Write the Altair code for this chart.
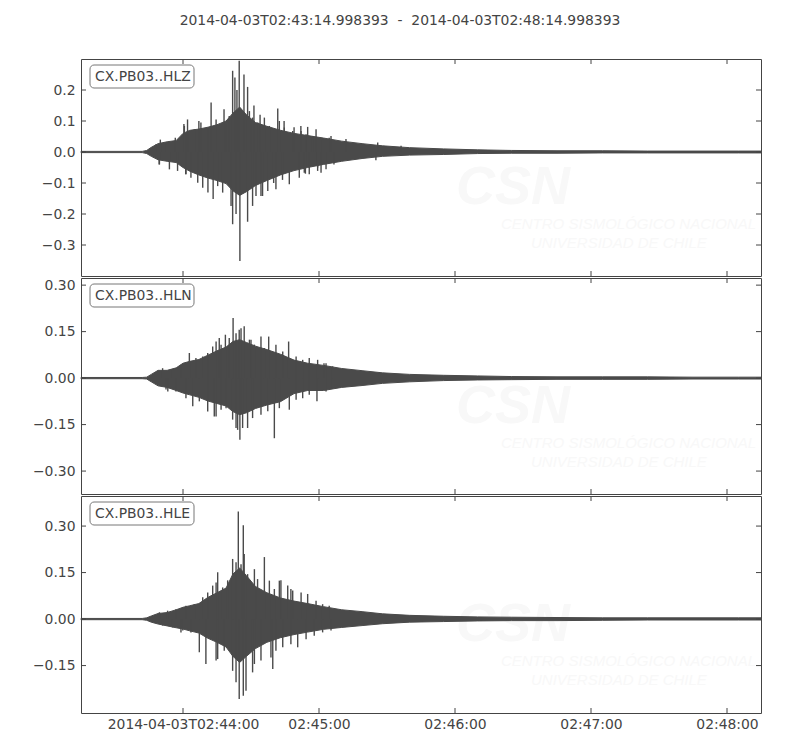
import altair as alt
import pandas as pd

# ---------------- data ----------------
START = "2014-04-03T02:43:14.998393"
END = "2014-04-03T02:48:14.998393"
TITLE = "2014-04-03T02:43:14.998393\u00a0\u00a0-\u00a0\u00a02014-04-03T02:48:14.998393"
TRACE_IDS = ["CX.PB03..HLZ", "CX.PB03..HLN", "CX.PB03..HLE"]

# envelope sample times, seconds after START
env_t = [0, 27, 29, 31, 34, 38, 42, 45, 48, 52, 56, 60, 64, 67, 70, 73, 77, 82,
         88, 94, 100, 107, 115, 124, 133, 145, 160, 175, 190, 210, 230, 250,
         270, 290, 300]

z_hi = [0.002, 0.002, 0.005, 0.015, 0.027, 0.033, 0.037, 0.06, 0.07, 0.074,
        0.08, 0.088, 0.1, 0.125, 0.145, 0.12, 0.095, 0.083, 0.07, 0.06, 0.053,
        0.045, 0.035, 0.027, 0.02, 0.014, 0.01, 0.007, 0.005, 0.004, 0.004,
        0.003, 0.003, 0.003, 0.003]
z_lo = [-0.002, -0.002, -0.005, -0.014, -0.025, -0.03, -0.034, -0.05, -0.062,
        -0.074, -0.084, -0.092, -0.102, -0.125, -0.14, -0.128, -0.108, -0.092,
        -0.074, -0.06, -0.05, -0.04, -0.03, -0.021, -0.014, -0.01, -0.008,
        -0.005, -0.004, -0.004, -0.003, -0.003, -0.003, -0.003, -0.003]

n_hi = [0.002, 0.002, 0.003, 0.012, 0.025, 0.025, 0.033, 0.048, 0.054, 0.06,
        0.074, 0.088, 0.1, 0.118, 0.124, 0.115, 0.103, 0.092, 0.077, 0.058,
        0.048, 0.041, 0.031, 0.024, 0.017, 0.012, 0.009, 0.007, 0.005, 0.004,
        0.004, 0.004, 0.003, 0.003, 0.003]
n_lo = [-0.002, -0.002, -0.003, -0.012, -0.025, -0.03, -0.04, -0.048, -0.054,
        -0.062, -0.074, -0.082, -0.09, -0.108, -0.118, -0.112, -0.098, -0.087,
        -0.076, -0.05, -0.04, -0.04, -0.03, -0.024, -0.017, -0.012, -0.008,
        -0.006, -0.005, -0.004, -0.004, -0.004, -0.003, -0.003, -0.003]

e_hi = [0.002, 0.002, 0.004, 0.01, 0.018, 0.021, 0.03, 0.038, 0.043, 0.05,
        0.07, 0.085, 0.1, 0.145, 0.165, 0.14, 0.105, 0.085, 0.068, 0.058, 0.05,
        0.04, 0.03, 0.024, 0.017, 0.012, 0.009, 0.007, 0.006, 0.005, 0.004,
        0.004, 0.004, 0.004, 0.004]
e_lo = [-0.002, -0.002, -0.004, -0.01, -0.016, -0.022, -0.028, -0.032, -0.038,
        -0.045, -0.062, -0.075, -0.09, -0.12, -0.14, -0.12, -0.095, -0.075,
        -0.06, -0.05, -0.042, -0.033, -0.027, -0.021, -0.015, -0.01, -0.008,
        -0.006, -0.005, -0.005, -0.004, -0.003, -0.003, -0.003, -0.003]

# individual peaks (seconds after START, amplitude)
z_spike_t = [35.0, 45.4, 47.0, 52.0, 57.4, 63.1, 66.9, 67.9, 68.8, 69.8, 71.9,
             73.5, 76.3, 79.0, 86.8, 89.6, 94.0, 97.0, 34.5, 46.2, 56.0, 58.3,
             62.5, 66.9, 68.4, 70.1, 73.5, 79.4, 85.0, 88.9, 99.0, 104.4,
             33.1, 36.8, 41.6, 45.6, 47.1, 50.0, 52.9, 55.9, 59.6, 64.0, 65.4,
             74.3, 75.7, 78.0, 80.9, 83.1, 87.5, 89.7, 93.4, 97.1, 99.3, 102.2,
             106.6, 109.5, 100.0, 103.7, 110.3, 116.9, 130.9, 141.2,
             34.6, 39.0, 42.6, 46.3, 48.5, 51.5, 53.7, 60.3, 66.2, 75.7, 77.2,
             80.1, 82.4, 86.0, 91.9, 96.3, 100.7, 104.4, 108.1, 98.5, 105.9,
             111.6, 130.1]
z_spike_v = [0.04, 0.09, 0.105, 0.10, 0.16, 0.138, 0.262, 0.24, 0.20, 0.294,
             0.25, 0.21, 0.15, 0.12, 0.14, 0.10, 0.08, 0.084, -0.04, -0.072,
             -0.131, -0.152, -0.131, -0.233, -0.2, -0.352, -0.225, -0.142,
             -0.1, -0.09, -0.07, -0.05,
             0.025, 0.030, 0.046, 0.084, 0.068, 0.073, 0.095, 0.079, 0.105,
             0.089, 0.116, 0.132, 0.111, 0.095, 0.111, 0.084, 0.1, 0.079,
             0.068, 0.068, 0.057, 0.051, 0.041, 0.046, 0.081, 0.073, 0.052,
             0.042, 0.031, 0.020,
             -0.040, -0.056, -0.061, -0.072, -0.083, -0.099, -0.115, -0.110,
             -0.174, -0.174, -0.142, -0.142, -0.126, -0.120, -0.104, -0.083,
             -0.072, -0.061, -0.056, -0.067, -0.067, -0.040, -0.027]

n_spike_t = [47.8, 59.6, 61.0, 63.7, 67.1, 69.8, 72.0, 75.0, 79.4, 82.8, 91.6,
             100.7, 104.4, 107.2, 38.3, 49.3, 55.9, 59.6, 66.9, 69.1, 70.1,
             73.5, 79.4, 85.3, 91.9, 104.1,
             36.0, 40.4, 44.1, 50.7, 53.7, 55.9, 58.1, 61.8, 65.4, 68.4, 70.6,
             74.3, 76.5, 80.9, 86.0, 89.0, 94.9, 97.8, 108.1, 111.0,
             37.5, 41.9, 46.3, 52.2, 58.8, 61.8, 64.0, 68.4, 71.3, 75.7, 82.4,
             87.5, 94.9, 97.8, 100.7, 108.1, 111.0]
n_spike_v = [0.081, 0.118, 0.129, 0.14, 0.194, 0.156, 0.167, 0.124, 0.134,
             0.134, 0.118, 0.065, 0.059, 0.048, -0.043, -0.091, -0.108, -0.124,
             -0.134, -0.167, -0.199, -0.161, -0.118, -0.194, -0.102, -0.075,
             0.032, 0.027, 0.043, 0.065, 0.070, 0.081, 0.102, 0.108, 0.129,
             0.145, 0.161, 0.124, 0.108, 0.097, 0.108, 0.086, 0.070, 0.059,
             0.048, 0.038,
             -0.037, -0.043, -0.065, -0.075, -0.124, -0.102, -0.097, -0.161,
             -0.161, -0.129, -0.107, -0.097, -0.070, -0.065, -0.054, -0.043,
             -0.032]

e_spike_t = [55.9, 59.6, 60.3, 64.7, 66.9, 68.4, 69.4, 71.6, 72.0, 76.5, 80.9,
             88.2, 92.6, 97.1, 44.1, 52.2, 55.1, 60.3, 68.4, 69.8, 71.6, 75.7,
             84.6, 95.6,
             34.6, 38.2, 41.9, 46.3, 50.0, 53.7, 58.1, 62.5, 70.6, 73.5, 77.9,
             83.1, 85.3, 87.5, 91.2, 93.4, 100.0, 103.7, 106.6, 109.5,
             36.0, 40.4, 44.9, 48.5, 59.6, 63.2, 66.9, 72.8, 76.5, 79.4, 83.8,
             86.0, 89.0, 92.6, 99.3, 102.9, 106.6, 110.3]
e_spike_v = [0.086, 0.118, 0.151, 0.125, 0.194, 0.183, 0.347, 0.303, 0.21,
             0.161, 0.2, 0.125, 0.097, 0.086, -0.043, -0.107, -0.145, -0.129,
             -0.204, -0.258, -0.247, -0.172, -0.161, -0.091,
             0.022, 0.027, 0.032, 0.043, 0.048, 0.070, 0.108, 0.102, 0.177,
             0.145, 0.129, 0.124, 0.097, 0.124, 0.108, 0.092, 0.081, 0.059,
             0.048, 0.043,
             -0.021, -0.027, -0.037, -0.043, -0.134, -0.102, -0.167, -0.231,
             -0.145, -0.134, -0.124, -0.102, -0.091, -0.081, -0.065, -0.054,
             -0.043, -0.037]

# axis ticks
x_tick_labels = ["2014-04-03T02:44:00", "2014-04-03T02:45:00", "2014-04-03T02:46:00",
                 "2014-04-03T02:47:00", "2014-04-03T02:48:00"]
z_yticks = [0.2, 0.1, 0.0, -0.1, -0.2, -0.3]
n_yticks = [0.30, 0.15, 0.0, -0.15, -0.30]
e_yticks = [0.30, 0.15, 0.0, -0.15]
z_domain = [-0.4, 0.3]
n_domain = [-0.374, 0.323]
e_domain = [-0.303, 0.397]

# ---------------- build ----------------
def ms(ts):
    return pd.Timestamp(ts, tz="UTC").value / 1e6

T0 = ms(START)
T1 = ms(END)
xticks = [ms(s) for s in x_tick_labels]

W = 680
INK = "#4a4a4a"
TXT = "#444444"
FONT = "DejaVu Sans"
FS = 13.9
WMC = "#f8f8f8"

def panel(name, hi, lo, sp_t, sp_v, yticks, ydom, yfmt, H, bottom):
    env = pd.DataFrame({"t": [T0 + s * 1000 for s in env_t], "hi": hi, "lo": lo})
    spk = pd.DataFrame({"t": [T0 + s * 1000 for s in sp_t], "v": sp_v, "z": 0.0})
    xt = pd.DataFrame({"t": xticks})
    yt = pd.DataFrame({"v": yticks})

    xscale = alt.Scale(type="utc", domain=[T0, T1], nice=False)
    yscale = alt.Scale(domain=ydom, nice=False, zero=False)
    if bottom:
        xaxis = alt.Axis(values=xticks, ticks=False, domain=False, grid=False,
                         title=None, labelPadding=4, labelFontSize=FS,
                         labelFont=FONT, labelColor=TXT, labelAngle=0,
                         labelFlush=False, labelOverlap=False,
                         labelExpr="utcFormat(datum.value, datum.value < %f ? '%%Y-%%m-%%dT%%H:%%M:%%S' : '%%H:%%M:%%S')" % (xticks[0] + 1000))
    else:
        xaxis = None
    yaxis = alt.Axis(values=yticks, format=yfmt, ticks=False, domain=False,
                     grid=False, title=None, labelPadding=6, labelFontSize=FS,
                     labelFont=FONT, labelColor=TXT, minExtent=72, maxExtent=72)

    X = alt.X("t:T", scale=xscale, axis=xaxis)

    area = alt.Chart(env).mark_area(color=INK, stroke=INK, strokeWidth=1,
                                    interpolate="linear").encode(
        x=X, y=alt.Y("hi:Q", scale=yscale, axis=yaxis), y2="lo:Q")
    spikes = alt.Chart(spk).mark_rule(color=INK, strokeWidth=1.4).encode(
        x=X, y=alt.Y("z:Q", scale=yscale, axis=yaxis), y2="v:Q")

    xt_top = alt.Chart(xt).mark_rule(color=TXT).encode(
        x=X, y=alt.value(0), y2=alt.value(5))
    xt_bot = alt.Chart(xt).mark_rule(color=TXT).encode(
        x=X, y=alt.value(H - 5), y2=alt.value(H))
    yt_l = alt.Chart(yt).mark_rule(color=TXT).encode(
        y=alt.Y("v:Q", scale=yscale, axis=yaxis), x=alt.value(0), x2=alt.value(5))
    yt_r = alt.Chart(yt).mark_rule(color=TXT).encode(
        y=alt.Y("v:Q", scale=yscale, axis=yaxis), x=alt.value(W - 5), x2=alt.value(W))

    lab = pd.DataFrame({"label": [name]})
    box = alt.Chart(lab).mark_rect(fill="white", stroke="#777777", strokeWidth=1,
                                   cornerRadius=4).encode(
        x=alt.value(9), x2=alt.value(113), y=alt.value(6), y2=alt.value(29))
    txt = alt.Chart(lab).mark_text(align="left", baseline="middle", fontSize=FS,
                                   font=FONT, color=TXT).encode(
        x=alt.value(14), y=alt.value(18), text="label:N")

    wm = pd.DataFrame({"a": ["CSN"], "b": ["CENTRO SISMOLÓGICO NACIONAL"],
                       "c": ["UNIVERSIDAD DE CHILE"]})
    wm1 = alt.Chart(wm).mark_text(align="left", baseline="alphabetic", fontSize=54,
                                  font="Liberation Sans", fontStyle="italic",
                                  fontWeight="bold", color=WMC).encode(
        x=alt.value(375), y=alt.value(145), text="a:N")
    wm2 = alt.Chart(wm).mark_text(align="right", baseline="alphabetic", fontSize=15,
                                  font="Liberation Sans", fontStyle="italic",
                                  color=WMC).encode(
        x=alt.value(675), y=alt.value(170), text="b:N")
    wm3 = alt.Chart(wm).mark_text(align="left", baseline="alphabetic", fontSize=15,
                                  font="Liberation Sans", fontStyle="italic",
                                  color=WMC).encode(
        x=alt.value(450), y=alt.value(189), text="c:N")

    return alt.layer(wm1, wm2, wm3, area, spikes, xt_top, xt_bot, yt_l, yt_r,
                     box, txt).properties(width=W, height=H)

top = panel(TRACE_IDS[0], z_hi, z_lo, z_spike_t, z_spike_v, z_yticks, z_domain, ".1f", 217, False)
mid = panel(TRACE_IDS[1], n_hi, n_lo, n_spike_t, n_spike_v, n_yticks, n_domain, ".2f", 216, False)
bot = panel(TRACE_IDS[2], e_hi, e_lo, e_spike_t, e_spike_v, e_yticks, e_domain, ".2f", 217, True)

chart = alt.vconcat(top, mid, bot, spacing=0).properties(
    title=alt.TitleParams(TITLE, fontSize=FS, font=FONT, color=TXT,
                          fontWeight="normal", anchor="middle", offset=30, dx=14),
    padding={"left": 0, "top": 6, "right": 5, "bottom": 5},
).configure_view(stroke="#444444", strokeWidth=1).configure_concat(spacing=0)

chart.save("out.html", embed_options={"renderer": "svg", "actions": False})
